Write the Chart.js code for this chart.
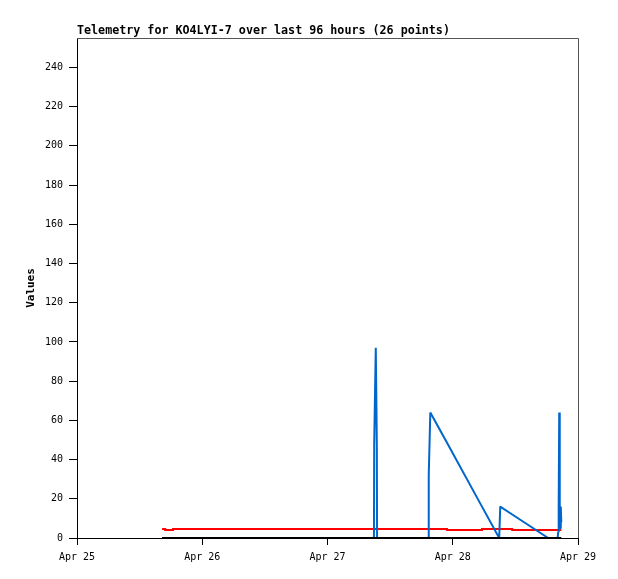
<!DOCTYPE html>
<html>
<head>
<meta charset="utf-8">
<script src="https://cdn.jsdelivr.net/npm/chart.js@4.4.0/dist/chart.umd.min.js"></script>
<style>
    body { margin: 0; background: #fff; }
    canvas { display: block; }
</style>
</head>
<body>
<canvas id="telemetryChart" width="618" height="579"></canvas>
<script>
const chartTitle = 'Telemetry for KO4LYI-7 over last 96 hours (26 points)';
const yAxisLabel = 'Values';

// hours since Apr 25 00:00 for the 26 points
const hours = [16.3, 16.9, 17.4, 18.4, 56.9, 56.95, 57.25, 57.45, 57.5, 67.3, 67.4, 67.7, 70.9,
               77.6, 80.9, 81.1, 83.4, 90.3, 92.1, 92.2, 92.3, 92.4, 92.5, 92.6, 92.7, 92.8];
const blackValues = [0, 0, 0, 0, 0, 0, 0, 0, 0, 0, 0, 0, 0, 0, 0, 0, 0, 0, 0, 0, 0, 0, 0, 0, 0, 0];
const blueValues = [0, 0, 0, 0, 0, 48, 97, 48, 0, 0, 32, 64, 48.6, 16, 0, 16, 12, 0, 0, 3, 16, 64, 16, 5, 16, 8];
const redValues = [4.6, 4.1, 4.1, 4.6, 4.6, 4.6, 4.6, 4.6, 4.6, 4.6, 4.6, 4.6, 4.1,
                   4.6, 4.6, 4.6, 4.1, 4.1, 4.1, 4.1, 4.1, 4.1, 4.1, 4.1, 4.1, 4.1];

const xTickLabels = ['Apr 25', 'Apr 26', 'Apr 27', 'Apr 28', 'Apr 29'];
const xTickHours = [0, 24, 48, 72, 96];
const yTicks = [0, 20, 40, 60, 80, 100, 120, 140, 160, 180, 200, 220, 240];

const toPoints = values => values.map((v, i) => ({ x: hours[i], y: v }));

// title + grey frame on top/right
const framePlugin = {
    id: 'frame',
    afterDraw(chart) {
        const { ctx, chartArea } = chart;
        ctx.save();
        ctx.strokeStyle = '#555';
        ctx.lineWidth = 1;
        ctx.beginPath();
        ctx.moveTo(chartArea.left, chartArea.top + 0.5);
        ctx.lineTo(chartArea.right + 0.5, chartArea.top + 0.5);
        ctx.lineTo(chartArea.right + 0.5, chartArea.bottom);
        ctx.stroke();
        ctx.fillStyle = '#000';
        ctx.font = 'bold 11.7px "DejaVu Sans Mono"';
        ctx.textBaseline = 'alphabetic';
        ctx.fillText(chartTitle, chartArea.left, 34);
        ctx.restore();
    }
};

const ctx = document.getElementById('telemetryChart').getContext('2d');
const chart = new Chart(ctx, {
    type: 'line',
    data: {
        datasets: [{
            data: toPoints(blackValues),
            borderColor: '#000',
            borderWidth: 2
        }, {
            data: toPoints(blueValues),
            borderColor: '#0066cc',
            borderWidth: 2,
            borderJoinStyle: 'bevel'
        }, {
            data: toPoints(redValues),
            borderColor: '#ff0000',
            borderWidth: 2,
            stepped: true
        }]
    },
    options: {
        responsive: false,
        animation: false,
        events: [],
        elements: { point: { radius: 0 }, line: { tension: 0 } },
        layout: { padding: { top: 38, right: 40, left: 0, bottom: 0 } },
        plugins: { legend: { display: false }, tooltip: { enabled: false } },
        scales: {
            x: {
                type: 'linear',
                min: 0,
                max: 96,
                afterFit: scale => { scale.height = 41; },
                afterBuildTicks: scale => { scale.ticks = xTickHours.map(h => ({ value: h })); },
                grid: { drawOnChartArea: false, tickLength: 7, color: '#000' },
                border: { color: '#000', width: 1 },
                ticks: {
                    autoSkip: false,
                    maxRotation: 0,
                    padding: 6,
                    color: '#000',
                    font: { family: 'DejaVu Sans Mono', size: 10 },
                    callback: value => xTickLabels[xTickHours.indexOf(value)]
                }
            },
            y: {
                min: 0,
                max: 255,
                afterFit: scale => { scale.width = 77; },
                afterBuildTicks: scale => { scale.ticks = yTicks.map(v => ({ value: v })); },
                grid: { drawOnChartArea: false, tickLength: 8, color: '#000' },
                border: { color: '#000', width: 1 },
                ticks: {
                    padding: 6,
                    color: '#000',
                    font: { family: 'DejaVu Sans Mono', size: 10 }
                },
                title: {
                    display: true,
                    text: yAxisLabel,
                    color: '#000',
                    font: { family: 'DejaVu Sans Mono', size: 11, weight: 'bold' },
                    padding: { top: 25, bottom: 0 }
                }
            }
        }
    },
    plugins: [framePlugin]
});
</script>
</body>
</html>
